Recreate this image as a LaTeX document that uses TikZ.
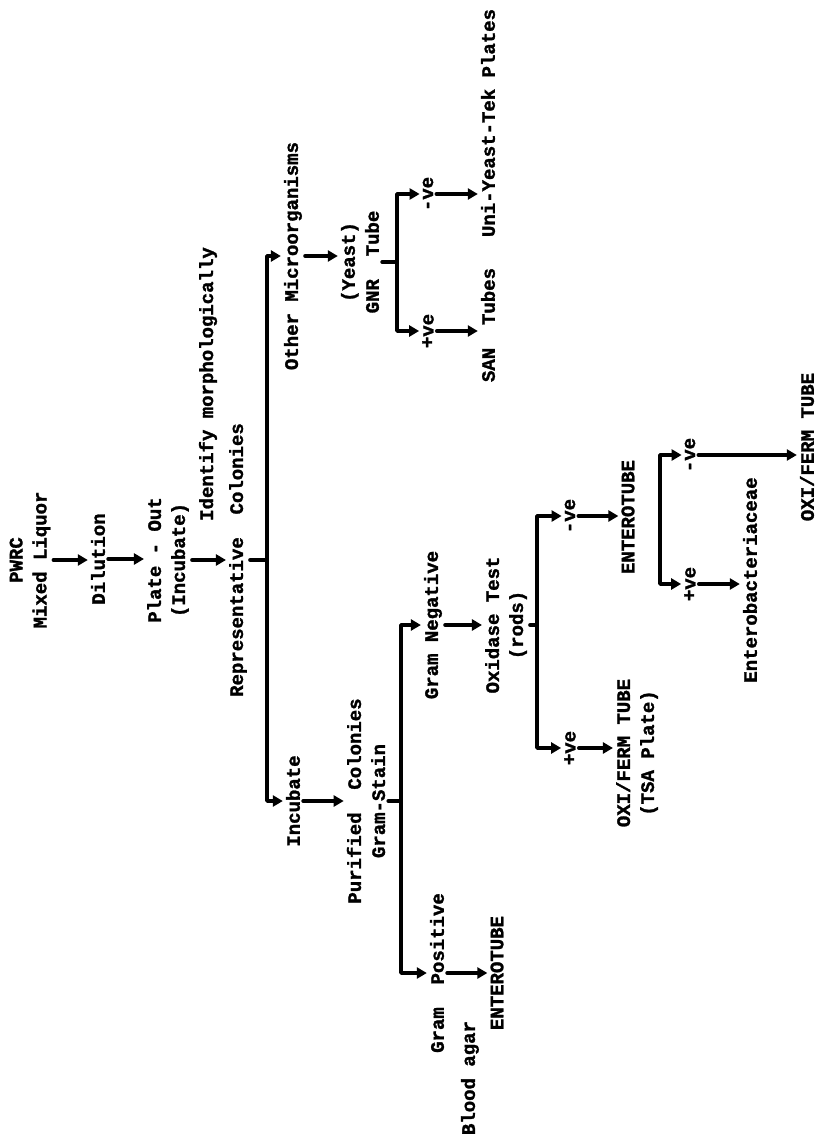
\documentclass[tikz,border=0pt]{standalone}
\usepackage{fontspec}
\usepackage{tikz}
\usetikzlibrary{arrows.meta}
\newfontfamily\flowfont{Liberation Mono}[BoldFeatures={FakeBold=1.5}]

\begin{document}
\begin{tikzpicture}[x=1pt,y=-1pt,
  lbl/.style={rotate=90,align=center,inner sep=3pt,font=\flowfont\bfseries\fontsize{19}{24}\selectfont},
  ln/.style={line width=3.8pt,line cap=round,line join=round},
  arr/.style={ln,-{Triangle[length=10pt,width=11pt]}}]
  \useasboundingbox (0,0) rectangle (821,1142);
  \fill[white] (0,0) rectangle (821,1142);
  % sample preparation
  \node[lbl] (src)   at (30,560)  {PWRC\\Mixed Liquor};
  \node[lbl] (dil)   at (98,559)  {Dilution};
  \node[lbl] (plate) at (168,560) {Plate - Out\\(Incubate)};
  \node[lbl] (ident) at (208,384) {Identify morphologically};
  \node[lbl] (rep)   at (238,560) {Representative\ \ Colonies};
  \draw[arr] (src.south) -- (src.south -| dil.north);
  \draw[arr] (dil.south) -- (dil.south -| plate.north);
  \draw[arr] (plate.south) -- (plate.south -| rep.north);
  \coordinate (rb) at (267,560);
  \draw[ln] (rep.south) -- (rb);
  % other microorganisms
  \node[lbl] (other) at (293,256) {Other Microorganisms};
  \node[lbl] (gnr)   at (360,262) {(Yeast)\\GNR\ \ Tube};
  \node[lbl] (neg1)  at (428,194) {-ve};
  \node[lbl] (pos1)  at (428,331) {+ve};
  \node[lbl] (uni)   at (488,123) {Uni-Yeast-Tek Plates};
  \node[lbl] (san)   at (488,325) {SAN\ \ Tubes};
  \draw[arr] (rb) |- (other.north);
  \draw[arr] (other.south) -- (other.south -| gnr.north);
  \coordinate (gb) at (397,262);
  \draw[ln] (gnr.south) -- (gb);
  \draw[arr] (gb) |- (neg1.north);
  \draw[arr] (gb) |- (pos1.north);
  \draw[arr] (neg1.south) -- (neg1.south -| uni.north);
  \draw[arr] (pos1.south) -- (pos1.south -| san.north);
  % purified colonies
  \node[lbl] (inc)   at (293,801) {Incubate};
  \node[lbl] (pur)   at (366,801) {Purified\ \ Colonies\\Gram-Stain};
  \node[lbl] (gneg)  at (433,625) {Gram Negative};
  \node[lbl] (gpos)  at (437,973) {Gram\ \ Positive};
  \node[lbl] (blood) at (470,1078) {Blood agar};
  \node[lbl] (ent1)  at (497,973) {ENTEROTUBE};
  \draw[arr] (rb) |- (inc.north);
  \draw[arr] (inc.south) -- (inc.south -| pur.north);
  \coordinate (pb) at (401,801);
  \draw[ln] (pur.south) -- (pb);
  \draw[arr] (pb) |- (gneg.north);
  \draw[arr] (pb) |- (gpos.north);
  \draw[arr] (gpos.south) -- (gpos.south -| ent1.north);
  % gram negative rods
  \node[lbl] (oxi)   at (506,625) {Oxidase Test\\(rods)};
  \node[lbl] (neg2)  at (570,516) {-ve};
  \node[lbl] (pos2)  at (570,748) {+ve};
  \node[lbl] (ent2)  at (628,517) {ENTEROTUBE};
  \node[lbl] (oxf1)  at (637,753) {OXI/FERM TUBE\\(TSA Plate)};
  \draw[arr] (gneg.south) -- (gneg.south -| oxi.north);
  \coordinate (ob) at (537,625);
  \draw[ln] (oxi.south) -- (ob);
  \draw[arr] (ob) |- (neg2.north);
  \draw[arr] (ob) |- (pos2.north);
  \draw[arr] (neg2.south) -- (neg2.south -| ent2.north);
  \draw[arr] (pos2.south) -- (pos2.south -| oxf1.north);
  \node[lbl] (neg3)   at (690,455) {-ve};
  \node[lbl] (pos3)   at (690,584) {+ve};
  \node[lbl] (entero) at (750,580) {Enterobacteriaceae};
  \node[lbl] (oxf2)   at (807,447) {OXI/FERM TUBE};
  \coordinate (eb) at (660,517);
  \draw[arr] (eb) |- (neg3.north);
  \draw[arr] (eb) |- (pos3.north);
  \draw[arr] (neg3.south) -- (neg3.south -| oxf2.north);
  \draw[arr] (pos3.south) -- (pos3.south -| entero.north);
\end{tikzpicture}
\end{document}
